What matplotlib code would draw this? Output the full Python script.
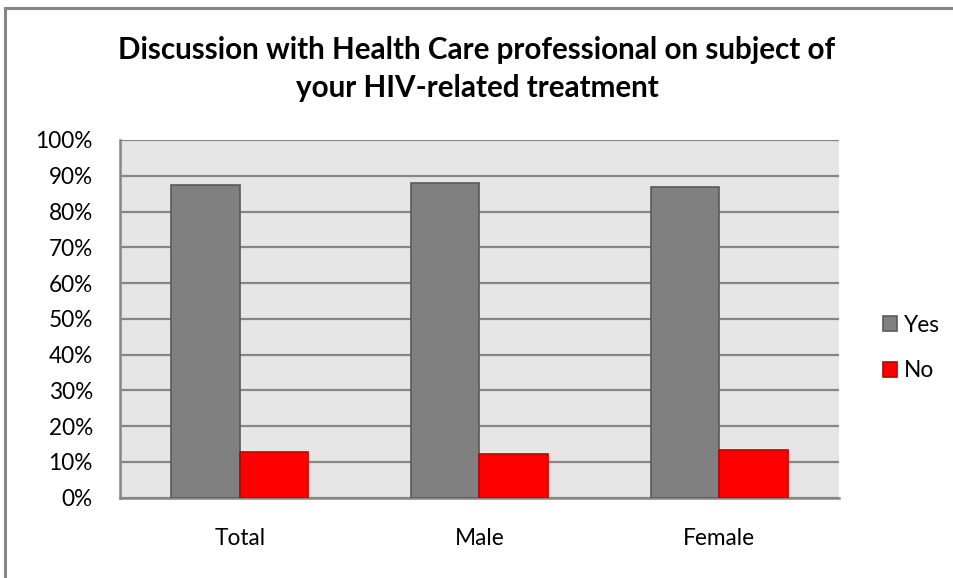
import numpy as np
import matplotlib
matplotlib.use("Agg")
import matplotlib.pyplot as plt
from matplotlib.patches import Rectangle
from matplotlib.ticker import PercentFormatter

# Dados
categorias = ["Total", "Male", "Female"]
sim = [87.4, 88.1, 86.8]
nao = [12.7, 12.1, 13.3]
series = ["Yes", "No"]
titulo = "Discussion with Health Care professional on subject of\nyour HIV-related treatment"

plt.rcParams["font.family"] = ["Lato", "DejaVu Sans"]

W, H = 954, 578
fig = plt.figure(figsize=(W / 100, H / 100), dpi=100)

# borda externa do gráfico (estilo Excel)
fig.patches.append(Rectangle((5 / W, -0.05), 1.1, 1 - 8 / H + 0.05,
                             transform=fig.transFigure, fill=False,
                             edgecolor="#868686", linewidth=2.2))

ax = fig.add_axes([120 / W, (H - 497.7) / H, 719 / W, 357.7 / H])
ax.set_facecolor("#E6E6E6")

x = np.arange(len(categorias))
largura = 1 / 3.5
ax.bar(x - largura / 2, sim, largura, color="#808080", edgecolor="#5A5A5A",
       linewidth=1.2, label=series[0], zorder=3)
ax.bar(x + largura / 2, nao, largura, color="#FF0000", edgecolor="#C00000",
       linewidth=1.2, label=series[1], zorder=3)

ax.set_xlim(-0.5, 2.5)
ax.set_ylim(0, 100)
ax.set_yticks(np.arange(0, 101, 10))
ax.yaxis.set_major_formatter(PercentFormatter(decimals=0))
ax.set_xticks(x)
ax.set_xticklabels(categorias)
ax.tick_params(axis="both", length=0, labelsize=16.3, colors="black")
ax.tick_params(axis="y", pad=19.5)
ax.tick_params(axis="x", pad=22)
ax.grid(axis="y", color="#868686", linewidth=1.6, zorder=1)
ax.set_axisbelow(True)

for lado in ["top", "right"]:
    ax.spines[lado].set_visible(False)
for lado in ["left", "bottom"]:
    ax.spines[lado].set_color("#868686")
    ax.spines[lado].set_linewidth(1.8)

fig.text(0.5, 1 - 69 / H, titulo, ha="center", va="center",
         fontsize=21.3, fontweight="bold", linespacing=1.42)

fig.legend(loc="center left", bbox_to_anchor=(863 / W, 1 - 348 / H),
           frameon=False, fontsize=16.3, handlelength=0.6, handleheight=0.6,
           handletextpad=0.3, labelspacing=1.1)

fig.savefig("out.png", dpi=100)
